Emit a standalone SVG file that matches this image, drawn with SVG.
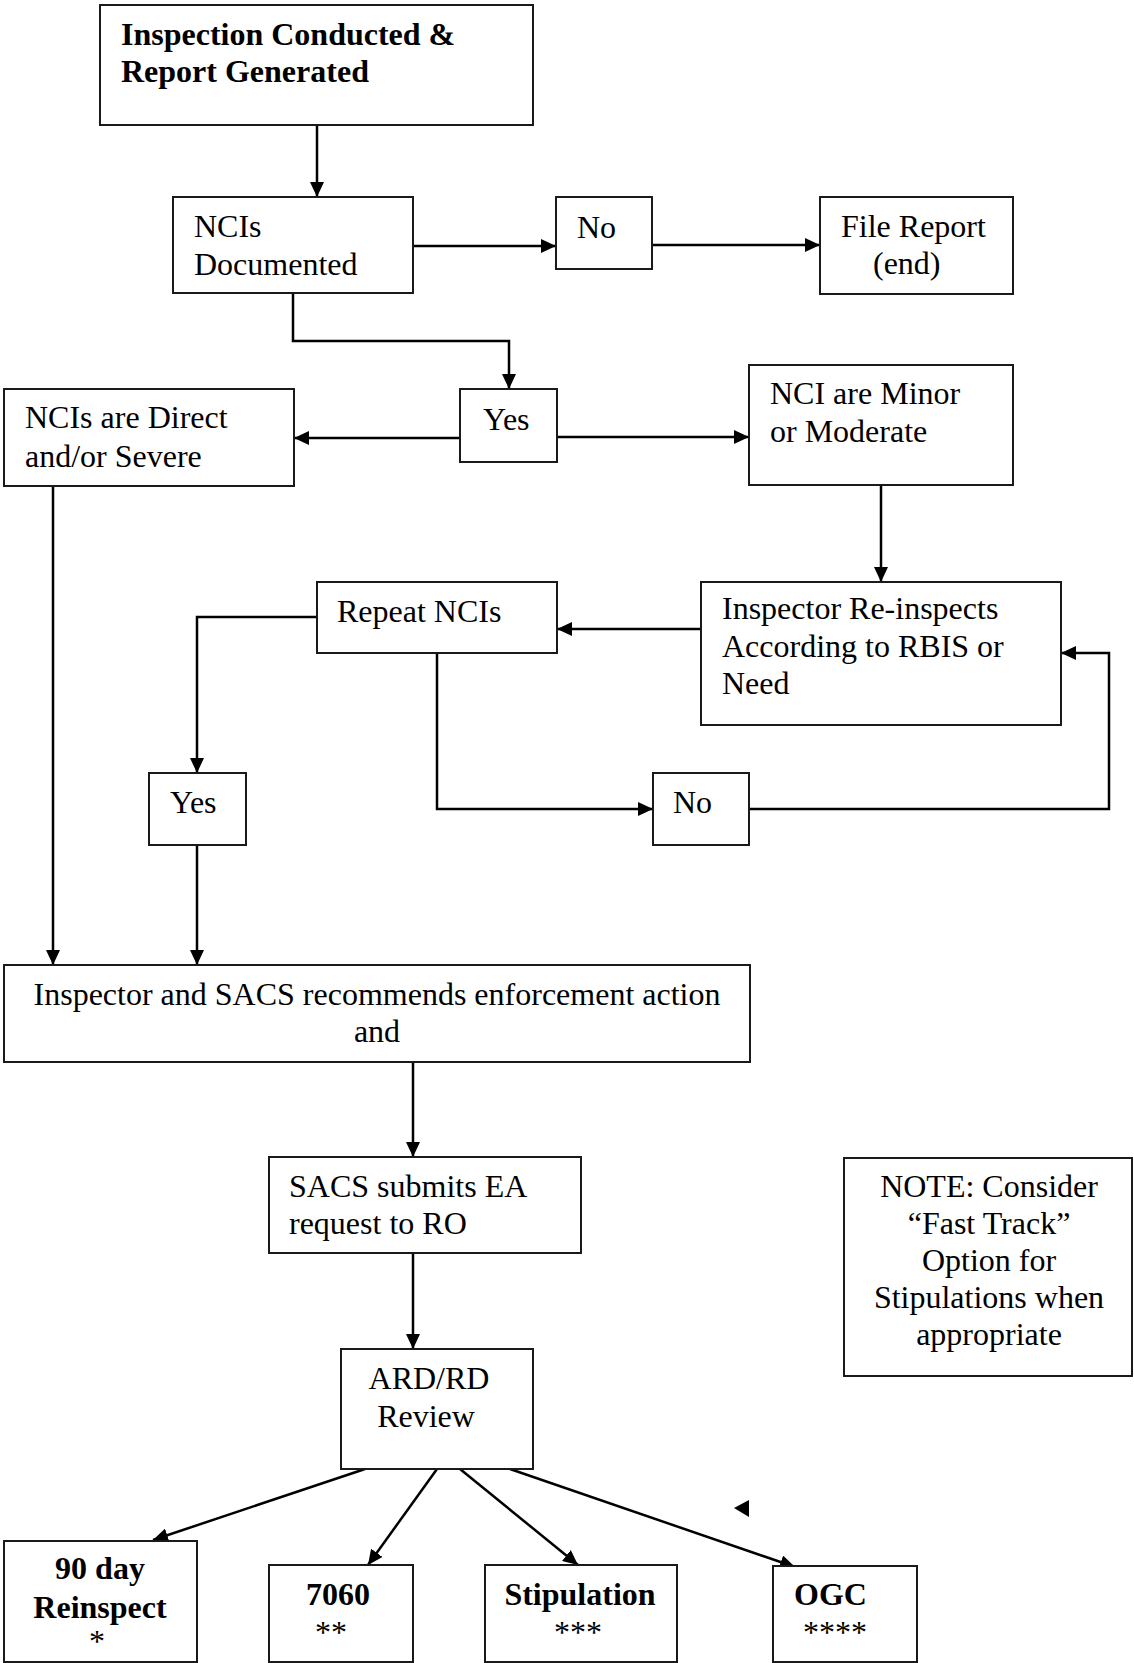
<svg xmlns="http://www.w3.org/2000/svg" width="1134" height="1663" viewBox="0 0 1134 1663">
<style>
.box{fill:#fff;stroke:#1a1a1a;stroke-width:2}
.t{font-family:"Liberation Serif","Times New Roman",serif;font-size:32px;fill:#000}
.b{font-weight:bold}
.m{text-anchor:middle}
.c{fill:none;stroke:#000;stroke-width:2.5;marker-end:url(#ah)}
</style>
<defs>
<marker id="ah" markerUnits="userSpaceOnUse" markerWidth="15" markerHeight="14" refX="15" refY="7" orient="auto">
<path d="M0,0 L15,7 L0,14 z" fill="#000"/>
</marker>
</defs>
<rect width="1134" height="1663" fill="#fff"/>
<g id="connectors">
<path class="c" d="M317,125 V197"/>
<path class="c" d="M413,246 H556"/>
<path class="c" d="M652,245 H820"/>
<path class="c" d="M293,293 V341 H509 V389"/>
<path class="c" d="M460,438 H294"/>
<path class="c" d="M557,437 H749"/>
<path class="c" d="M881,485 V582"/>
<path class="c" d="M701,629 H557"/>
<path class="c" d="M317,617 H197 V773"/>
<path class="c" d="M437,653 V809 H653"/>
<path class="c" d="M749,809 H1109 V653 H1061"/>
<path class="c" d="M53,486 V965"/>
<path class="c" d="M197,845 V965"/>
<path class="c" d="M413,1062 V1157"/>
<path class="c" d="M413,1253 V1349"/>
<path class="c" d="M365,1469 L153,1540"/>
<path class="c" d="M437,1469 L368,1565"/>
<path class="c" d="M460,1469 L578,1565"/>
<path class="c" d="M510,1469 L795,1567"/>
<polygon points="734,1508 749,1500 749,1517" fill="#000"/>
</g>
<g id="inspection"><rect class="box" x="100" y="5" width="433" height="120"/>
<text class="t b" x="121" y="45">Inspection Conducted &amp;</text>
<text class="t b" x="121" y="82">Report Generated</text></g>
<g id="ncis-documented"><rect class="box" x="173" y="197" width="240" height="96"/>
<text class="t" x="194" y="237">NCIs</text>
<text class="t" x="194" y="275">Documented</text></g>
<g id="no1"><rect class="box" x="556" y="197" width="96" height="72"/>
<text class="t" x="577" y="238">No</text></g>
<g id="file-report"><rect class="box" x="820" y="197" width="193" height="97"/>
<text class="t" x="841" y="237">File Report</text>
<text class="t" x="873" y="274">(end)</text></g>
<g id="yes1"><rect class="box" x="460" y="389" width="97" height="73"/>
<text class="t" x="483" y="430">Yes</text></g>
<g id="direct-severe"><rect class="box" x="4" y="389" width="290" height="97"/>
<text class="t" x="25" y="428">NCIs are Direct</text>
<text class="t" x="25" y="467">and/or Severe</text></g>
<g id="minor-moderate"><rect class="box" x="749" y="365" width="264" height="120"/>
<text class="t" x="770" y="404">NCI are Minor</text>
<text class="t" x="770" y="442">or Moderate</text></g>
<g id="reinspects"><rect class="box" x="701" y="582" width="360" height="143"/>
<text class="t" x="722" y="619">Inspector Re-inspects</text>
<text class="t" x="722" y="657">According to RBIS or</text>
<text class="t" x="722" y="694">Need</text></g>
<g id="repeat-ncis"><rect class="box" x="317" y="582" width="240" height="71"/>
<text class="t" x="337" y="622">Repeat NCIs</text></g>
<g id="yes2"><rect class="box" x="149" y="773" width="97" height="72"/>
<text class="t" x="170" y="813">Yes</text></g>
<g id="no2"><rect class="box" x="653" y="773" width="96" height="72"/>
<text class="t" x="673" y="813">No</text></g>
<g id="enforcement"><rect class="box" x="4" y="965" width="746" height="97"/>
<text class="t m" x="377" y="1005">Inspector and SACS recommends enforcement action</text>
<text class="t m" x="377" y="1042">and</text></g>
<g id="sacs-submits"><rect class="box" x="269" y="1157" width="312" height="96"/>
<text class="t" x="289" y="1197">SACS submits EA</text>
<text class="t" x="289" y="1234">request to RO</text></g>
<g id="note"><rect class="box" x="844" y="1158" width="288" height="218"/>
<text class="t m" x="989" y="1197">NOTE: Consider</text>
<text class="t m" x="989" y="1234">“Fast Track”</text>
<text class="t m" x="989" y="1271">Option for</text>
<text class="t m" x="989" y="1308">Stipulations when</text>
<text class="t m" x="989" y="1345">appropriate</text></g>
<g id="ard-review"><rect class="box" x="341" y="1349" width="192" height="120"/>
<text class="t m" x="429" y="1389">ARD/RD</text>
<text class="t m" x="426" y="1427">Review</text></g>
<g id="reinspect90"><rect class="box" x="4" y="1541" width="193" height="121"/>
<text class="t b m" x="100" y="1579">90 day</text>
<text class="t b m" x="100" y="1618">Reinspect</text>
<text class="t m" x="97" y="1652">*</text></g>
<g id="n7060"><rect class="box" x="269" y="1565" width="144" height="97"/>
<text class="t b" x="306" y="1605">7060</text>
<text class="t" x="315" y="1643">**</text></g>
<g id="stipulation"><rect class="box" x="485" y="1565" width="192" height="97"/>
<text class="t b m" x="580" y="1605">Stipulation</text>
<text class="t m" x="578" y="1643">***</text></g>
<g id="ogc"><rect class="box" x="773" y="1566" width="144" height="96"/>
<text class="t b" x="794" y="1605">OGC</text>
<text class="t" x="803" y="1643">****</text></g>
</svg>
